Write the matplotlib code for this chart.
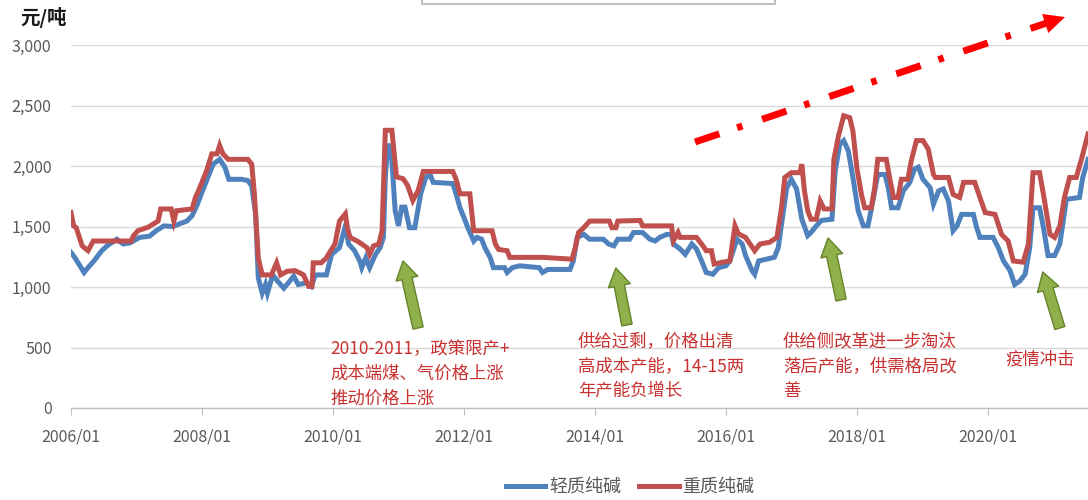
import numpy as np
import matplotlib
matplotlib.use("Agg")
import matplotlib.pyplot as plt
from matplotlib.lines import Line2D
from matplotlib.patches import Rectangle

plt.rcParams['font.family'] = ['Noto Sans CJK SC', 'DejaVu Sans']

# 轻质纯碱 价格拐点（年份小数, 元/吨）
light_t = [2006.0, 2006.05, 2006.12, 2006.2, 2006.26, 2006.35, 2006.47, 2006.55, 2006.7, 2006.8,
           2006.9, 2007.05, 2007.2, 2007.3, 2007.42, 2007.55, 2007.77, 2007.85, 2007.92, 2007.99,
           2008.07, 2008.17, 2008.27, 2008.35, 2008.41, 2008.6, 2008.7, 2008.76, 2008.82, 2008.86,
           2008.92, 2008.97, 2009.0, 2009.08, 2009.16, 2009.25, 2009.32, 2009.4, 2009.47, 2009.6,
           2009.67, 2009.73, 2009.9, 2009.98, 2010.1, 2010.19, 2010.24, 2010.33, 2010.41, 2010.44,
           2010.5, 2010.56, 2010.65, 2010.72, 2010.77, 2010.8, 2010.84, 2010.9, 2010.95, 2011.0,
           2011.05, 2011.1, 2011.17, 2011.25, 2011.34, 2011.42, 2011.49, 2011.53, 2011.83, 2011.88,
           2011.94, 2012.0, 2012.06, 2012.15, 2012.2, 2012.27, 2012.32, 2012.4, 2012.45, 2012.62,
           2012.66, 2012.74, 2012.85, 2013.15, 2013.2, 2013.28, 2013.62, 2013.67, 2013.73, 2013.83,
           2013.92, 2014.13, 2014.21, 2014.29, 2014.35, 2014.53, 2014.59, 2014.73, 2014.84, 2014.92,
           2014.99, 2015.1, 2015.17, 2015.2, 2015.3, 2015.38, 2015.48, 2015.55, 2015.63, 2015.7,
           2015.8, 2015.89, 2016.0, 2016.06, 2016.17, 2016.25, 2016.3, 2016.4, 2016.44, 2016.5,
           2016.62, 2016.74, 2016.8, 2016.85, 2016.93, 2017.0, 2017.08, 2017.16, 2017.25, 2017.3,
           2017.38, 2017.46, 2017.62, 2017.67, 2017.74, 2017.8, 2017.87, 2017.94, 2018.02, 2018.1,
           2018.17, 2018.25, 2018.32, 2018.43, 2018.48, 2018.53, 2018.63, 2018.71, 2018.81, 2018.88,
           2018.94, 2019.01, 2019.12, 2019.17, 2019.25, 2019.32, 2019.4, 2019.47, 2019.53, 2019.6,
           2019.78, 2019.83, 2019.88, 2020.08, 2020.16, 2020.24, 2020.34, 2020.41, 2020.49, 2020.57,
           2020.64, 2020.69, 2020.79, 2020.85, 2020.92, 2021.02, 2021.1, 2021.2, 2021.4, 2021.45,
           2021.53]
light_v = [1285, 1250, 1190, 1120, 1160, 1215, 1300, 1340, 1395, 1355,
           1365, 1410, 1420, 1465, 1505, 1500, 1545, 1590, 1670, 1770,
           1880, 2015, 2055, 1990, 1890, 1890, 1880, 1835, 1600, 1075,
           950, 1020, 950, 1100, 1045, 990, 1035, 1090, 1020, 1035,
           1005, 1100, 1100, 1270, 1325, 1505, 1355, 1300, 1215, 1160,
           1240, 1160, 1270, 1325, 1410, 1910, 2185, 2045, 1630, 1505,
           1660, 1660, 1490, 1490, 1770, 1910, 1920, 1865, 1855, 1770,
           1655, 1575, 1490, 1380, 1410, 1395, 1325, 1245, 1160, 1160,
           1120, 1160, 1175, 1160, 1120, 1145, 1145, 1215, 1410, 1435,
           1395, 1395, 1355, 1340, 1395, 1395, 1450, 1450, 1395, 1380,
           1410, 1435, 1435, 1355, 1315, 1270, 1355, 1315, 1215, 1120,
           1105, 1160, 1175, 1215, 1395, 1355, 1260, 1135, 1105, 1215,
           1230, 1245, 1325, 1520, 1820, 1890, 1810, 1560, 1425, 1450,
           1505, 1550, 1560, 1960, 2180, 2210, 2125, 1905, 1630, 1505,
           1505, 1725, 1930, 1930, 1820, 1655, 1655, 1795, 1865, 1975,
           1990, 1890, 1820, 1685, 1795, 1810, 1710, 1465, 1505, 1600,
           1600, 1490, 1410, 1410, 1325, 1215, 1135, 1020, 1050, 1105,
           1325, 1655, 1655, 1490, 1260, 1260, 1355, 1725, 1740, 1905,
           2055]

# 重质纯碱 价格拐点
heavy_t = [2006.0, 2006.04, 2006.08, 2006.17, 2006.26, 2006.34, 2006.92, 2006.95, 2007.02, 2007.18,
           2007.33, 2007.37, 2007.53, 2007.57, 2007.61, 2007.85, 2007.9, 2007.97, 2008.07, 2008.15,
           2008.23, 2008.27, 2008.32, 2008.4, 2008.7, 2008.76, 2008.8, 2008.86, 2008.92, 2009.06,
           2009.14, 2009.2, 2009.3, 2009.42, 2009.5, 2009.55, 2009.63, 2009.68, 2009.7, 2009.82,
           2009.9, 2009.96, 2010.03, 2010.1, 2010.19, 2010.22, 2010.26, 2010.37, 2010.44, 2010.52,
           2010.56, 2010.62, 2010.7, 2010.75, 2010.8, 2010.9, 2010.97, 2011.07, 2011.14, 2011.22,
           2011.3, 2011.38, 2011.83, 2011.88, 2011.94, 2012.09, 2012.15, 2012.43, 2012.48, 2012.53,
           2012.66, 2012.7, 2013.2, 2013.65, 2013.7, 2013.75, 2013.83, 2013.92, 2014.22, 2014.26,
           2014.32, 2014.35, 2014.69, 2014.73, 2015.17, 2015.2, 2015.27, 2015.3, 2015.55, 2015.63,
           2015.7, 2015.78, 2015.82, 2015.95, 2016.06, 2016.14, 2016.19, 2016.3, 2016.37, 2016.44,
           2016.52, 2016.67, 2016.78, 2016.85, 2016.9, 2017.0, 2017.13, 2017.16, 2017.2, 2017.25,
           2017.3, 2017.38, 2017.44, 2017.5, 2017.62, 2017.65, 2017.72, 2017.8, 2017.89, 2017.94,
           2018.0, 2018.07, 2018.12, 2018.22, 2018.27, 2018.32, 2018.45, 2018.5, 2018.56, 2018.63,
           2018.68, 2018.78, 2018.83, 2018.91, 2019.01, 2019.09, 2019.17, 2019.2, 2019.4, 2019.47,
           2019.57, 2019.63, 2019.8, 2019.88, 2019.96, 2020.11, 2020.21, 2020.31, 2020.39, 2020.54,
           2020.62, 2020.69, 2020.79, 2020.85, 2020.95, 2021.02, 2021.1, 2021.17, 2021.25, 2021.35,
           2021.43, 2021.53]
heavy_v = [1615, 1505, 1490, 1340, 1300, 1380, 1380, 1420, 1465, 1495,
           1545, 1645, 1645, 1545, 1630, 1645, 1740, 1825, 1960, 2100,
           2100, 2170, 2100, 2055, 2055, 2015, 1770, 1240, 1100, 1100,
           1200, 1100, 1130, 1135, 1115, 1100, 1005, 1005, 1200, 1200,
           1240, 1295, 1355, 1545, 1605, 1490, 1410, 1380, 1355, 1325,
           1270, 1340, 1355, 1465, 2295, 2295, 1910, 1895, 1840, 1715,
           1795, 1955, 1955, 1890, 1770, 1770, 1465, 1465, 1355, 1310,
           1300, 1245, 1245, 1230, 1325, 1450, 1490, 1545, 1545, 1490,
           1490, 1545, 1550, 1505, 1505, 1385, 1450, 1410, 1410, 1355,
           1300, 1300, 1190, 1205, 1215, 1505, 1440, 1410, 1355, 1300,
           1355, 1370, 1410, 1655, 1905, 1945, 1945, 2015, 1795, 1630,
           1560, 1560, 1710, 1645, 1645, 2055, 2250, 2415, 2400, 2290,
           1985, 1765, 1655, 1655, 1810, 2055, 2055, 1905, 1740, 1740,
           1890, 1890, 2040, 2210, 2210, 2140, 1930, 1905, 1905, 1765,
           1740, 1865, 1865, 1740, 1615, 1600, 1435, 1380, 1215, 1205,
           1355, 1945, 1945, 1765, 1435, 1410, 1505, 1740, 1905, 1905,
           2055, 2265]

tick_years = [2006, 2008, 2010, 2012, 2014, 2016, 2018, 2020]
tick_labels = ["%d/01" % y for y in tick_years]
y_ticks = [0, 500, 1000, 1500, 2000, 2500, 3000]

blue = "#4F81BD"
red = "#C0504D"
note_red = "#C8312F"

fig = plt.figure(figsize=(10.88, 5.0), dpi=100)
ax = fig.add_axes([71 / 1088, 92 / 500, 1017 / 1088, 363 / 500])

ax.plot(light_t, light_v, color=blue, lw=3.6, solid_joinstyle="miter", zorder=3)
ax.plot(heavy_t, heavy_v, color=red, lw=3.6, solid_joinstyle="miter", zorder=4)

ax.set_xlim(2006.0, 2021.53)
ax.set_ylim(0, 3000)
ax.set_yticks(y_ticks)
ax.set_yticklabels(["{:,}".format(v) for v in y_ticks])
ax.set_xticks(tick_years)
ax.set_xticklabels(tick_labels)
ax.grid(axis="y", color="#D9D9D9", lw=1.0)
ax.set_axisbelow(True)
for s in ["top", "right", "left"]:
    ax.spines[s].set_visible(False)
ax.spines["bottom"].set_color("#BFBFBF")
ax.spines["bottom"].set_linewidth(1.0)
ax.tick_params(axis="y", length=0, pad=14, labelsize=11.5, labelcolor="#595959")
ax.tick_params(axis="x", length=5, color="#BFBFBF", pad=10, labelsize=11.5,
               labelcolor="#595959")

fig.text(20 / 1088, 1 - 18 / 500, "元/吨", ha="left", va="center",
         fontsize=14, fontweight="bold", color="#1a1a1a")

# 顶部红色点划线趋势箭头
ax.plot([0.6136, 0.9590], [0.7328, 1.0602], transform=ax.transAxes, clip_on=False,
        color="#FF0000", lw=5, linestyle=(0, (3.7, 2.7, 0.8, 3.0)), zorder=6)
ax.annotate("", xy=(0.9774, 1.077), xytext=(0.9560, 1.0575),
            xycoords="axes fraction", textcoords="axes fraction",
            arrowprops=dict(arrowstyle="-|>,head_length=0.75,head_width=0.36",
                            mutation_scale=20, color="#FF0000", lw=0,
                            shrinkA=0, shrinkB=0), zorder=6)

# 绿色箭头
green_arrows = [((2011.07, 1215), (2011.30, 661)),
                ((2014.32, 1157), (2014.49, 686)),
                ((2017.56, 1405), (2017.76, 893)),
                ((2020.84, 1124), (2021.10, 661))]
for tip, tail in green_arrows:
    ax.annotate("", xy=tip, xytext=tail,
                arrowprops=dict(arrowstyle="simple,head_length=1.3,head_width=1.6,tail_width=0.75",
                                mutation_scale=10, fc="#8FB04A", ec="#64842A", lw=1.0,
                                shrinkA=0, shrinkB=0), zorder=7)

notes = [(330, 351, "2010-2011，政策限产+\n成本端煤、气价格上涨\n推动价格上涨"),
         (578, 343, "供给过剩，价格出清\n高成本产能，14-15两\n年产能负增长"),
         (783, 343, "供给侧改革进一步淘汰\n落后产能，供需格局改\n善"),
         (1005, 362, "疫情冲击")]
for px, py, txt in notes:
    fig.text(px / 1088, 1 - py / 500, txt, ha="left", va="top", fontsize=12.5,
             color=note_red, linespacing=1.5,
             transform=fig.transFigure).set_va("center_baseline") if False else \
        fig.text(px / 1088, 1 - (py - 11) / 500, txt, ha="left", va="top", fontsize=12.5,
                 color=note_red, linespacing=1.5)

# 顶部残留的标题框边缘
fig.patches.append(Rectangle((422 / 1088, 1 - 4 / 500), 353 / 1088, 10 / 500,
                             transform=fig.transFigure, fc="white", ec="#BFBFBF",
                             lw=1.5, zorder=1))

handles = [Line2D([], [], color=blue, lw=3.6), Line2D([], [], color=red, lw=3.6)]
fig.legend(handles, ["轻质纯碱", "重质纯碱"], loc="center",
           bbox_to_anchor=(630 / 1088, 1 - 487 / 500), ncol=2, frameon=False,
           fontsize=13, handlelength=2.2, handletextpad=0.2, columnspacing=1.0,
           labelcolor="#595959")

plt.savefig("out.png", dpi=100)
